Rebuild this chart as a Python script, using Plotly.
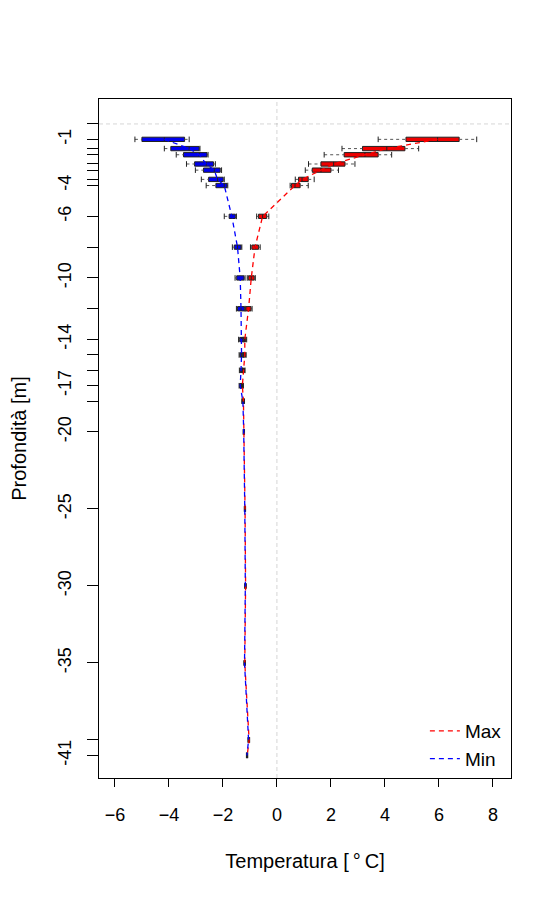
import plotly.graph_objects as go

# profondità (m) e statistiche dei boxplot (lo, q1, mediana, q3, hi)
depth = [-1, -1.6, -2, -2.6, -3, -3.6, -4, -6, -8, -10, -12, -14, -15, -16, -17, -18,
         -20, -25, -30, -35, -40, -41]

max_lo = [3.75, 2.41, 1.75, 1.17, 1.05, 0.68, 0.49, -0.75, -0.98, -1.10, -1.18, -1.25, -1.25,
          -1.28, -1.32, -1.28, -1.24, -1.20, -1.18, -1.21, -1.06, -1.12]
max_q1 = [4.78, 3.17, 2.49, 1.63, 1.31, 0.80, 0.54, -0.68, -0.93, -1.06, -1.15, -1.22, -1.22,
          -1.26, -1.30, -1.26, -1.23, -1.19, -1.17, -1.20, -1.05, -1.11]
max_med = [5.95, 4.07, 3.26, 2.10, 1.63, 0.93, 0.67, -0.53, -0.81, -0.95, -1.05, -1.19, -1.19,
           -1.23, -1.28, -1.24, -1.22, -1.18, -1.16, -1.19, -1.03, -1.10]
max_q3 = [6.75, 4.74, 3.75, 2.52, 2.00, 1.16, 0.86, -0.38, -0.68, -0.84, -0.96, -1.15, -1.16,
          -1.20, -1.26, -1.22, -1.21, -1.17, -1.15, -1.18, -1.02, -1.09]
max_hi = [7.40, 5.25, 4.25, 2.89, 2.28, 1.38, 1.16, -0.30, -0.62, -0.80, -0.92, -1.12, -1.14,
          -1.18, -1.24, -1.20, -1.20, -1.16, -1.14, -1.17, -1.01, -1.08]

min_lo = [-5.26, -4.17, -3.73, -3.35, -3.02, -2.80, -2.62, -1.95, -1.65, -1.55, -1.50, -1.42,
          -1.40, -1.39, -1.40, -1.30, -1.25, -1.21, -1.19, -1.22, -1.07, -1.13]
min_q1 = [-5.00, -3.93, -3.46, -3.05, -2.72, -2.53, -2.26, -1.77, -1.58, -1.49, -1.46, -1.38,
          -1.37, -1.36, -1.38, -1.28, -1.24, -1.20, -1.18, -1.21, -1.06, -1.12]
min_med = [-4.17, -3.25, -2.88, -2.62, -2.32, -2.20, -1.95, -1.67, -1.46, -1.36, -1.33, -1.31,
           -1.31, -1.33, -1.36, -1.26, -1.23, -1.19, -1.17, -1.20, -1.05, -1.11]
min_q3 = [-3.42, -2.88, -2.59, -2.35, -2.10, -1.99, -1.85, -1.54, -1.33, -1.22, -1.21, -1.25,
          -1.26, -1.30, -1.33, -1.25, -1.22, -1.18, -1.16, -1.19, -1.04, -1.10]
min_hi = [-3.25, -2.85, -2.55, -2.28, -2.05, -1.95, -1.82, -1.50, -1.30, -1.18, -1.18, -1.22,
          -1.24, -1.28, -1.31, -1.24, -1.21, -1.17, -1.15, -1.18, -1.03, -1.09]

y_ticks = [0, -1, -1.6, -2, -2.6, -3, -3.6, -4, -6, -8, -10, -12, -14, -15, -16, -17, -18,
           -20, -25, -30, -35, -40, -41]
y_labels = ["", "-1", "", "", "", "", "", "-4", "-6", "", "-10", "", "-14", "", "", "-17", "",
            "-20", "-25", "-30", "-35", "", "-41"]
x_ticks = [-6, -4, -2, 0, 2, 4, 6, 8]

FONT = "Liberation Sans, Arial, sans-serif"

fig = go.Figure()


def add_series(lo, q1, med, q3, hi, fill):
    # scatole senza baffi, i baffi tratteggiati vengono disegnati a parte
    fig.add_trace(go.Box(y=depth, q1=q1, median=med, q3=q3, lowerfence=q1, upperfence=q3,
                         orientation="h", width=0.28, fillcolor=fill,
                         line=dict(color="#222222", width=1), whiskerwidth=0,
                         showlegend=False, hoverinfo="skip"))
    wx, wy = [], []
    for d, a, b, c, e in zip(depth, lo, q1, q3, hi):
        wx += [a, b, None, c, e, None]
        wy += [d, d, None, d, d, None]
    fig.add_trace(go.Scatter(x=wx, y=wy, mode="lines",
                             line=dict(color="#555555", width=1, dash="3px,3px"),
                             showlegend=False, hoverinfo="skip"))
    fig.add_trace(go.Scatter(x=lo + hi, y=depth + depth, mode="markers",
                             marker=dict(symbol="line-ns", size=4,
                                         line=dict(color="#222222", width=1)),
                             showlegend=False, hoverinfo="skip"))


add_series(max_lo, max_q1, max_med, max_q3, max_hi, "#ee0000")
add_series(min_lo, min_q1, min_med, min_q3, min_hi, "#0000ee")

fig.add_trace(go.Scatter(x=max_med, y=depth, mode="lines", name="Max",
                         line=dict(color="#ff0000", width=1.3, dash="5px,4px")))
fig.add_trace(go.Scatter(x=min_med, y=depth, mode="lines", name="Min",
                         line=dict(color="#0000ff", width=1.3, dash="5px,4px")))

fig.add_hline(y=0, line=dict(color="#7a7a7a", width=1, dash="4px,3px"))
fig.add_vline(x=0, line=dict(color="#7a7a7a", width=1, dash="4px,3px"))

fig.update_xaxes(range=[-6.59, 8.67], tickvals=x_ticks, ticks="outside", ticklen=8,
                 tickcolor="black", showline=True, linecolor="black", linewidth=1,
                 mirror=True, showgrid=False, zeroline=False, ticklabelstandoff=12,
                 automargin=False,
                 title=dict(text="Temperatura [\u2009°\u2009C]", standoff=30),
                 tickfont=dict(size=18), title_font=dict(size=20))
fig.update_yaxes(range=[-42.47, 1.62], tickvals=y_ticks, ticktext=y_labels, ticks="outside",
                 ticklen=11, tickcolor="black", tickangle=-90, showline=True,
                 linecolor="black", linewidth=1, mirror=True, showgrid=False,
                 zeroline=False, ticklabelstandoff=9, automargin=False,
                 title=dict(text="Profondità [m]", standoff=30),
                 tickfont=dict(size=18), title_font=dict(size=20))

fig.update_layout(width=560, height=900, template="simple_white",
                  margin=dict(l=91, r=57, t=91, b=130),
                  font=dict(family=FONT, color="black", size=18),
                  boxmode="overlay", plot_bgcolor="white", paper_bgcolor="white",
                  legend=dict(x=0.99, y=0.0, xanchor="right", yanchor="bottom",
                              bgcolor="rgba(0,0,0,0)", font=dict(size=19),
                              tracegroupgap=0))

fig.write_html("out.html")
